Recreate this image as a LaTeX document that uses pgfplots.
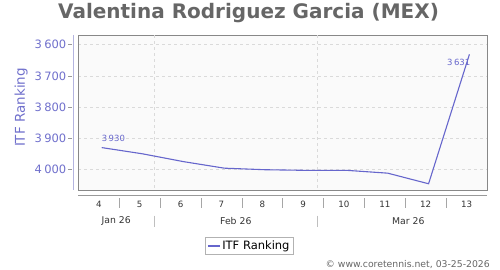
\documentclass[border=0pt]{standalone}
\usepackage{fontspec}
\setmainfont{DejaVu Sans}
\usepackage{pgfplots}
\pgfplotsset{compat=1.18}
\definecolor{lineblue}{RGB}{102,102,204}
\definecolor{ticklab}{RGB}{112,112,204}
\definecolor{titlegray}{RGB}{102,102,102}
\definecolor{framegray}{RGB}{136,136,136}
\definecolor{gridgray}{RGB}{218,218,218}
\definecolor{axpurple}{RGB}{180,180,224}
\begin{document}
\begin{tikzpicture}[x=1pt,y=1pt]
\path[use as bounding box] (0,0) rectangle (500,270);
\node[anchor=base, font=\fontsize{20}{22}\selectfont\bfseries, text=titlegray] at (248.5,251) {Valentina Rodriguez Garcia (MEX)};
\begin{axis}[at={(78pt,80pt)}, anchor=south west, width=409pt, height=154.7pt, scale only axis,
  xmin=3.42, xmax=13.43, ymin=3570, ymax=4066, y dir=reverse,
  axis background/.style={fill=black!2},
  axis line style={framegray},
  clip=false,
  major tick length=0pt,
  xtick={3.93,4.93,5.93,6.93,7.93,8.93,9.93,10.93,11.93,12.93},
  xticklabels={4,5,6,7,8,9,10,11,12,13},
  xticklabel style={font=\fontsize{8.7}{10}\selectfont, text=black!80, anchor=center, yshift=-14pt},
  extra x ticks={5.288,9.279}, extra x tick labels={},
  extra x tick style={grid=major},
  ytick={3600,3700,3800,3900,4000},
  ymajorgrids,
  grid style={dashed, gridgray},
  /pgf/number format/assume math mode=true,
  /pgf/number format/1000 sep={\hspace{2.5pt}},
  yticklabel style={font=\fontsize{11.5}{12}\selectfont, text=ticklab, anchor=east, inner sep=0pt, xshift=-11.5pt},
  ylabel={ITF Ranking},
  ylabel style={at={(axis description cs:-0.139,0.533)}, anchor=center, font=\fontsize{13.5}{15}\selectfont, text=ticklab},
  legend style={at={(axis description cs:0.419,-0.362)}, anchor=center, draw=black!30, font=\fontsize{11.5}{13}\selectfont, inner xsep=2pt, inner ysep=1.5pt},
  legend image code/.code={\draw[#1] (0pt,0pt) -- (12pt,0pt);},
]
\addplot[lineblue, line width=1.1pt] coordinates {(4,3930)(5,3950)(6,3975)(7,3996)(8,4001)(9,4003)(10,4003)(11,4012)(12,4046)(13,3631)};
\addlegendentry{ITF Ranking}
\addplot[draw=none, forget plot, point meta=explicit symbolic, nodes near coords,
  nodes near coords style={anchor=south west, inner sep=0pt, yshift=6pt, font=\fontsize{8.5}{9}\selectfont, text=lineblue}]
  coordinates {(4,3930) [3\,930]};
\addplot[draw=none, forget plot, point meta=explicit symbolic, nodes near coords,
  nodes near coords style={anchor=north east, inner sep=0pt, yshift=-4.5pt, xshift=1pt, font=\fontsize{8.5}{9}\selectfont, text=lineblue}]
  coordinates {(13,3631) [3\,631]};
\end{axis}
% axis decorations
\draw[black!40, line width=0.9pt] (78,75) -- (487,75);
\draw[axpurple, line width=0.9pt] (73.3,235) -- (73.3,80);
\foreach \yy in {225.34,194.15,162.96,131.77,100.58} {\draw[black!40] (68,\yy) -- (72,\yy);}
\foreach \xx in {119.26,160.1,200.9,241.8,282.6,323.5,364.3,405.2,446.0} {\draw[black!35] (\xx,71.7) -- (\xx,62.3);}
\foreach \xx in {154.3,317.3} {\draw[black!25] (\xx,54.3) -- (\xx,43.3);}
\node[font=\fontsize{9.3}{10}\selectfont, text=black!80] at (116.2,49.3) {Jan 26};
\node[font=\fontsize{9.3}{10}\selectfont, text=black!80] at (235.8,49.3) {Feb 26};
\node[font=\fontsize{9.3}{10}\selectfont, text=black!80] at (408.3,49.3) {Mar 26};
\node[anchor=east, font=\fontsize{9.3}{10}\selectfont, text=black!60, inner sep=0pt] at (490,5.7) {© www.coretennis.net, 03-25-2026};
\end{tikzpicture}
\end{document}
